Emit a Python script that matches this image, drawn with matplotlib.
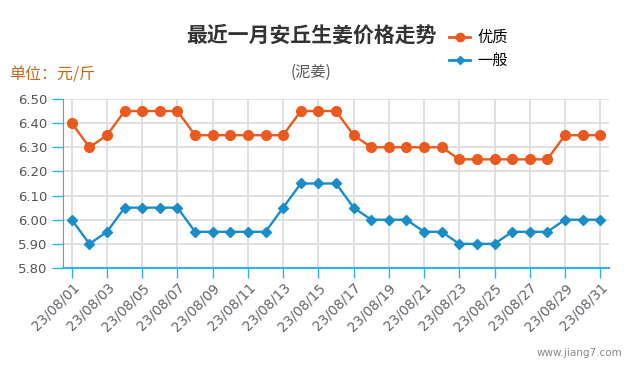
import matplotlib
matplotlib.use("Agg")
import matplotlib.pyplot as plt
from matplotlib.lines import Line2D

plt.rcParams['font.family'] = ['Noto Sans CJK SC', 'DejaVu Sans']

days = list(range(1, 32))
date_labels = [f"23/08/{d:02d}" for d in days]
premium = [6.40, 6.30, 6.35, 6.45, 6.45, 6.45, 6.45, 6.35, 6.35, 6.35, 6.35, 6.35, 6.35,
           6.45, 6.45, 6.45, 6.35, 6.30, 6.30, 6.30, 6.30, 6.30, 6.25, 6.25, 6.25, 6.25,
           6.25, 6.25, 6.35, 6.35, 6.35]
normal = [6.00, 5.90, 5.95, 6.05, 6.05, 6.05, 6.05, 5.95, 5.95, 5.95, 5.95, 5.95, 6.05,
          6.15, 6.15, 6.15, 6.05, 6.00, 6.00, 6.00, 5.95, 5.95, 5.90, 5.90, 5.90, 5.95,
          5.95, 5.95, 6.00, 6.00, 6.00]
yticks = [5.80, 5.90, 6.00, 6.10, 6.20, 6.30, 6.40, 6.50]
series_names = ["优质", "一般"]

orange = "#EA5A1E"
blue = "#1A8DC9"
axis_blue = "#2DB4E6"

fig = plt.figure(figsize=(6.35, 3.75), dpi=100)
ax = fig.add_axes([63/635, 1-268/375, (609-63)/635, (268-99)/375])

ax.plot(days, premium, color=orange, lw=1.7, marker='o', ms=7, zorder=3)
ax.plot(days, normal, color=blue, lw=1.7, marker='D', ms=5.2, zorder=3)

ax.set_xlim(0.5, 31.5)
ax.set_ylim(5.80, 6.50)
ax.set_yticks(yticks)
ax.set_yticklabels([f"{v:.2f}" for v in yticks], fontsize=9.5, color="#555555",
                   family="DejaVu Sans")
ax.set_xticks(days[::2])
ax.set_xticklabels(date_labels[::2], rotation=45, ha='right', rotation_mode='anchor',
                   fontsize=9.8, color="#66626a", family="DejaVu Sans")
ax.grid(True, color="#dddddd", lw=1.3, zorder=0)
ax.set_axisbelow(True)
for s in ['top', 'right']:
    ax.spines[s].set_visible(False)
ax.spines['left'].set_color(axis_blue)
ax.spines['bottom'].set_color(axis_blue)
ax.spines['bottom'].set_linewidth(1.5)
ax.tick_params(axis='y', length=8, color=axis_blue, width=1, pad=3)
ax.tick_params(axis='x', length=7, color=axis_blue, width=1, pad=2)

fig.text(311/635, 1-35/375, "最近一月安丘生姜价格走势", ha='center', va='center',
         fontsize=15, fontweight='bold', color="#333333")
fig.text(311/635, 1-72/375, "(泥姜)", ha='center', va='center', fontsize=11, color="#555555")
fig.text(9/635, 1-75/375, "单位：元/斤", ha='left', va='center', fontsize=11.5, color="#C8691E")
fig.text(622/635, 1-353/375, "www.jiang7.com", ha='right', va='center', fontsize=7.5,
         color="#888888", family="DejaVu Sans")

handles = [Line2D([], [], color=orange, lw=2, marker='o', ms=6),
           Line2D([], [], color=blue, lw=2, marker='D', ms=4.5)]
fig.legend(handles, series_names, loc='upper left', bbox_to_anchor=(449/635, 1-29/375),
           frameon=False, fontsize=11, handlelength=1.4, handletextpad=0.45,
           labelspacing=0.4, borderaxespad=0, borderpad=0)

fig.savefig("out.png", dpi=100)
